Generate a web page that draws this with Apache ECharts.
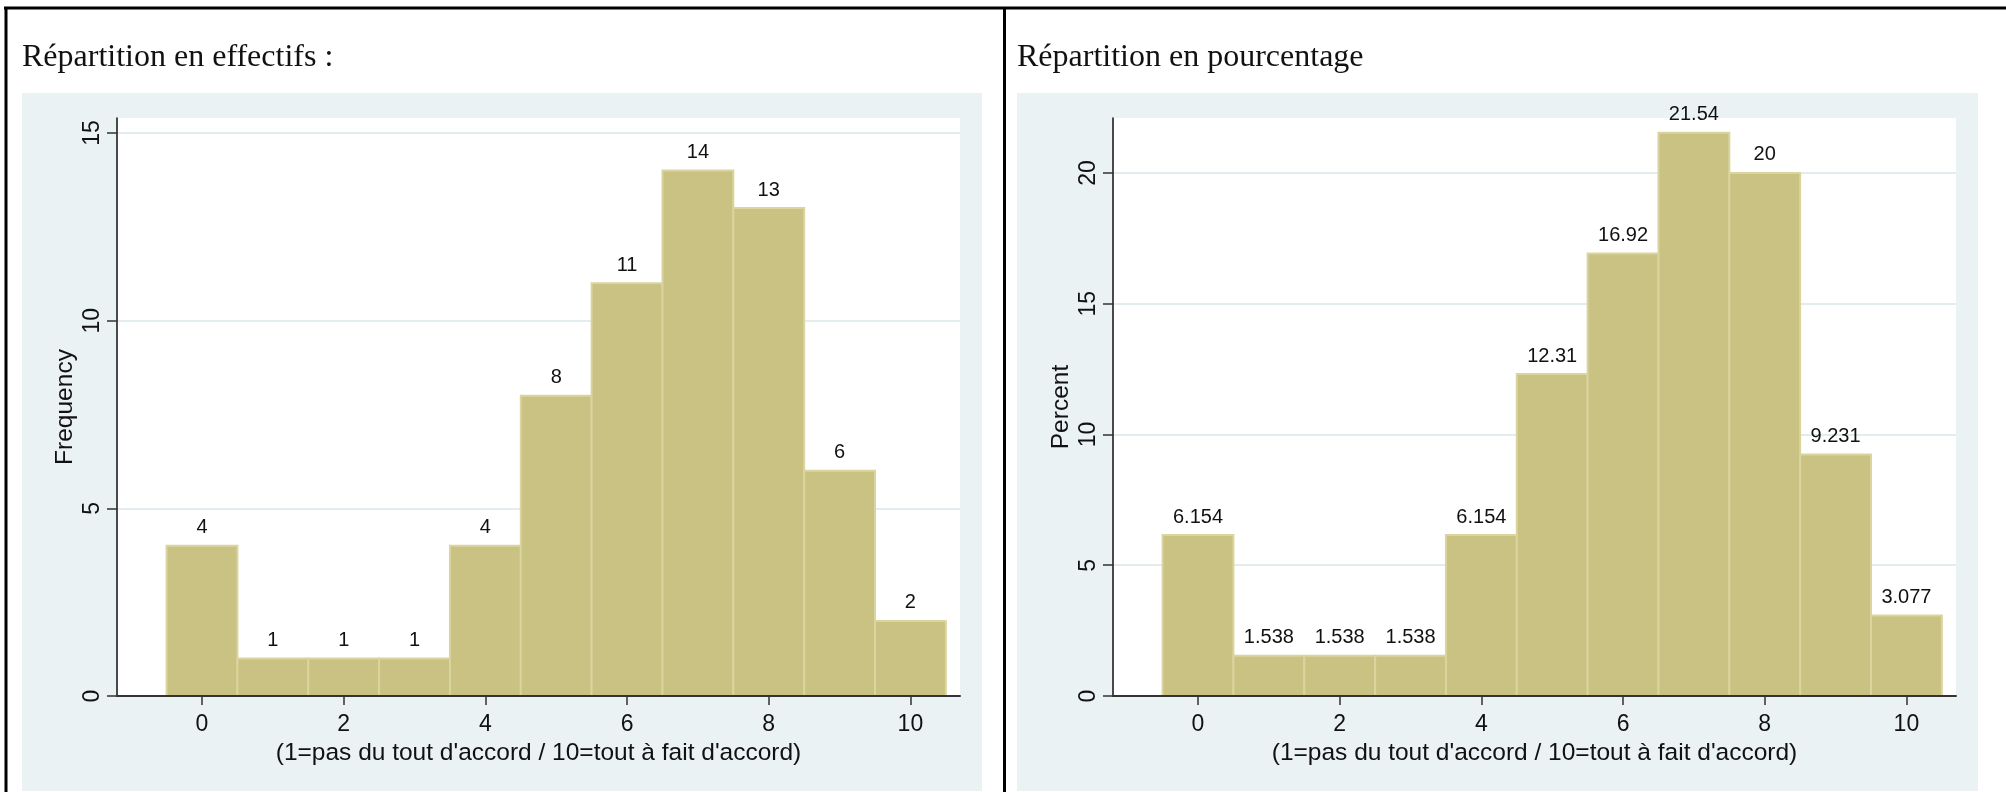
<!DOCTYPE html>
<html><head><meta charset="utf-8">
<script src="https://cdn.jsdelivr.net/npm/echarts@6/dist/echarts.min.js"></script>
<style>html,body{margin:0;padding:0;background:#fff}#c{width:2006px;height:792px}</style>
</head><body><div id="c"></div>
<script>
// ---- data ----
const categories = [0, 1, 2, 3, 4, 5, 6, 7, 8, 9, 10];
const frequencyValues = [4, 1, 1, 1, 4, 8, 11, 14, 13, 6, 2];
const percentValues = [6.154, 1.538, 1.538, 1.538, 6.154, 12.31, 16.92, 21.54, 20, 9.231, 3.077];
const xTickValues = [0, 2, 4, 6, 8, 10];
const freqTickValues = [0, 5, 10, 15];
const pctTickValues = [0, 5, 10, 15, 20];
const panelTitles = ['Répartition en effectifs :', 'Répartition en pourcentage'];
const xAxisTitle = "(1=pas du tout d'accord / 10=tout à fait d'accord)";
const yAxisTitles = ['Frequency', 'Percent'];

// ---- styles ----
const SANS = "'Liberation Sans', Arial, Helvetica, sans-serif";
const SERIF = "'Liberation Serif', 'Times New Roman', serif";
const BAR_FILL = '#CAC282';
const BAR_EDGE = '#DAD49E';
const BG_BLUE = '#EAF2F3';
const GRID_LINE = '#E3ECEE';

const chart = echarts.init(document.getElementById('c'), null, {renderer: 'canvas'});

function histSeries(values, gridIdx) {
  return {
    type: 'custom',
    xAxisIndex: gridIdx,
    yAxisIndex: gridIdx,
    data: categories.map((c, i) => [c, values[i]]),
    clip: false,
    renderItem: function (params, api) {
      const x = api.value(0), y = api.value(1);
      const p0 = api.coord([x - 0.5, y]);
      const p1 = api.coord([x + 0.5, 0]);
      return {
        type: 'group',
        children: [
          {type: 'rect',
           shape: {x: p0[0], y: p0[1], width: p1[0] - p0[0], height: p1[1] - p0[1]},
           style: {fill: BAR_FILL, stroke: BAR_EDGE, lineWidth: 2}},
          {type: 'text', x: (p0[0] + p1[0]) / 2, y: p0[1] - 8,
           style: {text: String(y), align: 'center', verticalAlign: 'bottom',
                   font: '20px ' + SANS, fill: '#111'}}
        ]
      };
    }
  };
}

function xAxisDef(gridIdx) {
  return {
    type: 'value', gridIndex: gridIdx, min: -1.2, max: 10.7, z: 10,
    name: xAxisTitle, nameLocation: 'middle', nameGap: 39,
    nameTextStyle: {fontFamily: SANS, fontSize: 24.5, color: '#111'},
    axisLine: {show: true, onZero: false, lineStyle: {color: '#333', width: 2}},
    axisTick: {show: true, length: 9, customValues: xTickValues, lineStyle: {color: '#333', width: 1.5}},
    axisLabel: {show: true, customValues: xTickValues, margin: 17, fontFamily: SANS, fontSize: 23, color: '#111'},
    splitLine: {show: false}
  };
}

function yAxisDef(gridIdx, max, ticks, name) {
  return {
    type: 'value', gridIndex: gridIdx, min: 0, max: max,
    name: name, nameLocation: 'middle', nameGap: 39, nameRotate: 90,
    nameTextStyle: {fontFamily: SANS, fontSize: 24.5, color: '#111'},
    axisLine: {show: true, onZero: false, lineStyle: {color: '#111', width: 1.5}},
    axisTick: {show: true, length: 10, customValues: ticks, lineStyle: {color: '#333', width: 1.5}},
    axisLabel: {show: true, customValues: ticks, rotate: 90, margin: 13, fontFamily: SANS, fontSize: 23, color: '#111'},
    splitLine: {show: true, lineStyle: {color: GRID_LINE, width: 2}}
  };
}

const option = {
  backgroundColor: '#fff',
  animation: false,
  title: [
    {text: panelTitles[0], left: 22, top: 42, padding: 0,
     textStyle: {fontFamily: SERIF, fontSize: 32, fontWeight: 'normal', color: '#111'}},
    {text: panelTitles[1], left: 1017, top: 42, padding: 0,
     textStyle: {fontFamily: SERIF, fontSize: 32, fontWeight: 'normal', color: '#111'}}
  ],
  graphic: [
    {type: 'rect', z: -10, shape: {x: 22, y: 93, width: 960, height: 698}, style: {fill: BG_BLUE}},
    {type: 'rect', z: -10, shape: {x: 1017, y: 93, width: 961, height: 698}, style: {fill: BG_BLUE}},
    {type: 'line', z: 100, shape: {x1: 4, y1: 8, x2: 2006, y2: 8}, style: {stroke: '#000', lineWidth: 3}},
    {type: 'line', z: 100, shape: {x1: 6, y1: 7, x2: 6, y2: 792}, style: {stroke: '#000', lineWidth: 3}},
    {type: 'line', z: 100, shape: {x1: 1004.5, y1: 7, x2: 1004.5, y2: 792}, style: {stroke: '#000', lineWidth: 3}}
  ],
  grid: [
    {left: 117, top: 118, width: 843, height: 578, show: true, backgroundColor: '#fff', borderWidth: 0, containLabel: false},
    {left: 1113, top: 118, width: 843, height: 578, show: true, backgroundColor: '#fff', borderWidth: 0, containLabel: false}
  ],
  xAxis: [xAxisDef(0), xAxisDef(1)],
  yAxis: [
    yAxisDef(0, 15.4, freqTickValues, yAxisTitles[0]),
    yAxisDef(1, 22.1, pctTickValues, yAxisTitles[1])
  ],
  series: [histSeries(frequencyValues, 0), histSeries(percentValues, 1)]
};
chart.setOption(option);
</script>
</body></html>
